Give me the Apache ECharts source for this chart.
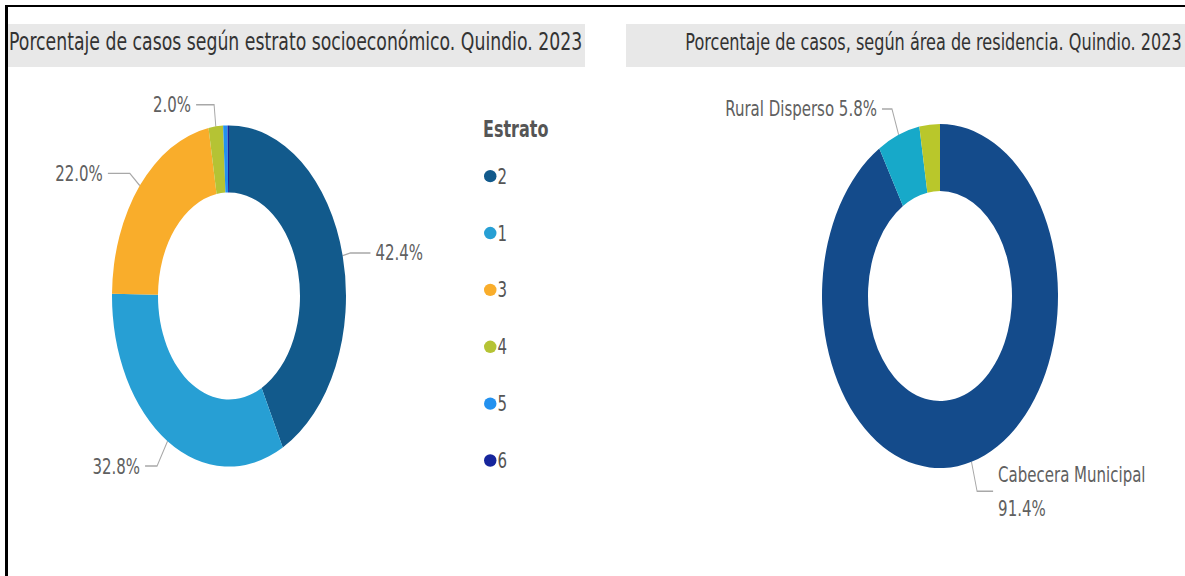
<!DOCTYPE html>
<html>
<head>
<meta charset="utf-8">
<script src="https://cdn.jsdelivr.net/npm/echarts@6.0.0/dist/echarts.min.js"></script>
<style>
  html, body { margin: 0; padding: 0; background: #fff; overflow: hidden; }
  #wrap { position: relative; width: 1185px; height: 576px; overflow: hidden; background: #fff; }
  #chart { position: absolute; left: 0; top: 0; width: 1185px; height: 395px; transform-origin: 0 0; transform: scaleY(1.4582); }
  #frame { position: absolute; left: 5px; top: 5px; width: 1190px; height: 580px; border-left: 3px solid #000; border-top: 2px solid #000; box-sizing: border-box; pointer-events: none; }
</style>
</head>
<body>
<div id="wrap">
  <div id="chart"></div>
  <div id="frame"></div>
</div>
<script>
// ---- Data ----
const leftTitle = 'Porcentaje de casos según estrato socioeconómico. Quindio. 2023';
const rightTitle = 'Porcentaje de casos, según área de residencia. Quindio. 2023';
const legendTitle = 'Estrato';
const estratoCategories = ['2', '1', '3', '4', '5', '6'];
const estratoValues = [42.4, 32.8, 22.0, 2.0, 0.6, 0.2];
const areaCategories = ['Cabecera Municipal', 'Rural Disperso', 'Centro Poblado'];
const areaValues = [91.4, 5.8, 2.8];

// ---- Styles ----
const estratoColors = ['#125a8c', '#279fd4', '#f9ad2b', '#b5c334', '#2391ef', '#16259c'];
const areaColors = ['#144b8b', '#17a9c9', '#b9c72b'];
// leader line lengths per slice [length, length2]
const estratoLines = [[8, 20], [20, 12], [13, 22], [15, 18], [10, 10], [10, 10]];
const areaLines = [[21, 16], [19, 10], [10, 10]];

const FONT = 'DejaVu Sans';
const labelColor = '#606060';
const lineColor = '#a8a8a8';

const estratoData = estratoCategories.map((c, i) => {
  const shown = estratoValues[i] >= 1.5;
  return {
    name: c, value: estratoValues[i],
    itemStyle: { color: estratoColors[i] },
    label: { show: shown },
    labelLine: { show: shown, length: estratoLines[i][0], length2: estratoLines[i][1] }
  };
});
const areaData = areaCategories.map((c, i) => {
  const shown = areaValues[i] >= 4;
  return {
    name: c, value: areaValues[i],
    itemStyle: { color: areaColors[i] },
    label: { show: shown },
    labelLine: { show: shown, length: areaLines[i][0], length2: areaLines[i][1] }
  };
});

const chart = echarts.init(document.getElementById('chart'), null, { renderer: 'svg' });
chart.setOption({
  animation: false,
  backgroundColor: 'transparent',
  graphic: [
    { type: 'rect', shape: { x: 8, y: 16.5, width: 577, height: 29.5 }, style: { fill: '#e8e8e8' }, z: 0 },
    { type: 'rect', shape: { x: 626, y: 16.5, width: 560, height: 29.5 }, style: { fill: '#e8e8e8' }, z: 0 }
  ],
  title: [
    { text: leftTitle, left: 9, top: 20, padding: 0,
      textStyle: { fontFamily: FONT, fontSize: 17.3, fontWeight: 'normal', color: '#333' } },
    { text: rightTitle, right: 3, top: 21, padding: 0,
      textStyle: { fontFamily: FONT, fontSize: 16.1, fontWeight: 'normal', color: '#333' } },
    { text: legendTitle, left: 483, top: 80, padding: 0,
      textStyle: { fontFamily: FONT, fontSize: 16, fontWeight: 'bold', color: '#555' } }
  ],
  legend: {
    show: true,
    orient: 'vertical',
    left: 484,
    top: 113.3,
    icon: 'path://M0,34 A50,34 0 1,0 100,34 A50,34 0 1,0 0,34 Z',
    itemWidth: 12.5,
    itemHeight: 8.5,
    itemGap: 24,
    padding: 0,
    data: estratoCategories,
    textStyle: { fontFamily: FONT, fontSize: 15, color: '#555', padding: [0, 0, 0, -4] },
    selectedMode: false
  },
  series: [
    {
      type: 'pie',
      center: [229, 203],
      radius: [71, 117],
      startAngle: 90,
      clockwise: true,
      avoidLabelOverlap: true,
      itemStyle: { borderWidth: 0 },
      emphasis: { disabled: true },
      label: {
        show: true,
        position: 'outside',
        fontFamily: FONT,
        fontSize: 15,
        color: labelColor,
        formatter: p => p.value.toFixed(1) + '%'
      },
      labelLine: { show: true, lineStyle: { color: lineColor, width: 1 } },
      data: estratoData
    },
    {
      type: 'pie',
      center: [940, 203],
      radius: [72, 118],
      startAngle: 90,
      clockwise: true,
      avoidLabelOverlap: true,
      itemStyle: { borderWidth: 0 },
      emphasis: { disabled: true },
      label: {
        show: true,
        position: 'outside',
        fontFamily: FONT,
        fontSize: 15,
        lineHeight: 23.5,
        color: labelColor,
        formatter: p => p.name + (p.dataIndex === 0 ? '\n' : ' ') + p.value.toFixed(1) + '%'
      },
      labelLine: { show: true, lineStyle: { color: lineColor, width: 1 } },
      data: areaData
    }
  ]
});
</script>
</body>
</html>
